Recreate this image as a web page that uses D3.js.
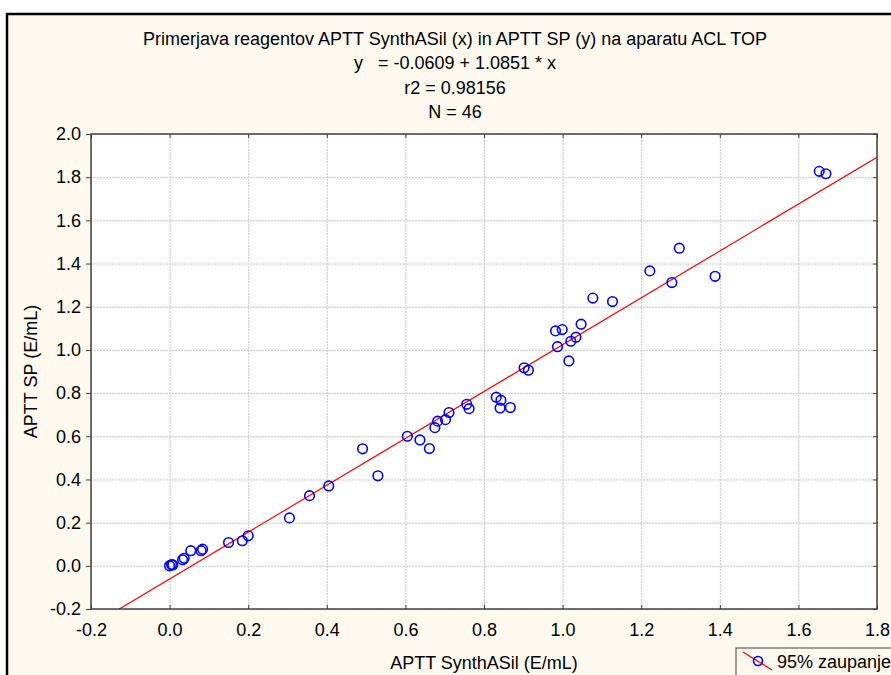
<!DOCTYPE html>
<html>
<head>
<meta charset="utf-8">
<script src="https://cdn.jsdelivr.net/npm/d3@7"></script>
<style>
	body { margin: 0; padding: 0; background: #fff; }
	svg text { font-family: "Liberation Sans", Arial, sans-serif; fill: #000; white-space: pre; }
	.grid line { stroke: #c8c8c8; stroke-dasharray: 2,1; }
	.grid .domain { display: none; }
	.axis .domain { display: none; }
	.axis line { stroke: #404040; }
	.axis text { font-size: 18px; }
</style>
</head>
<body>
<svg width="891" height="675"></svg>
<script>
(function() {

	// values
	var xValues = [0.000, 0.005, 0.008, 0.033, 0.037, 0.054, 0.080, 0.084, 0.150, 0.185,
		0.200, 0.305, 0.356, 0.405, 0.491, 0.530, 0.605, 0.637, 0.661, 0.675,
		0.682, 0.702, 0.711, 0.756, 0.762, 0.831, 0.843, 0.841, 0.867, 0.902,
		0.913, 0.987, 1.016, 0.982, 0.999, 1.021, 1.034, 1.047, 1.077, 1.127,
		1.222, 1.278, 1.297, 1.388, 1.653, 1.670]
	var yValues = [0.000, 0.006, 0.004, 0.028, 0.035, 0.070, 0.070, 0.077, 0.108, 0.116,
		0.139, 0.222, 0.325, 0.370, 0.542, 0.417, 0.600, 0.583, 0.543, 0.640,
		0.670, 0.677, 0.710, 0.748, 0.728, 0.781, 0.767, 0.731, 0.733, 0.917,
		0.906, 1.015, 0.949, 1.088, 1.094, 1.040, 1.059, 1.119, 1.240, 1.224,
		1.366, 1.312, 1.471, 1.341, 1.827, 1.816]
	var xTicks = [-0.2, 0.0, 0.2, 0.4, 0.6, 0.8, 1.0, 1.2, 1.4, 1.6, 1.8]
	var yTicks = [-0.2, 0.0, 0.2, 0.4, 0.6, 0.8, 1.0, 1.2, 1.4, 1.6, 1.8, 2.0]
	var intercept = -0.0609
	var slope = 1.0851
	var titleLines = [
		'Primerjava reagentov APTT SynthASil (x) in APTT SP (y) na aparatu ACL TOP',
		'y   = -0.0609 + 1.0851 * x',
		'r2 = 0.98156',
		'N = 46'
	]
	var xLabel = 'APTT SynthASil (E/mL)'
	var yLabel = 'APTT SP (E/mL)'
	var legendLabel = '95% zaupanje'

	var points = xValues.map(function(x, i) { return { x: x, y: yValues[i] } })

	var svg = d3.select('svg')
	var margin = { top: 134, left: 91, right: 14, bottom: 66 }
	var width = 891 - margin.left - margin.right
	var height = 675 - margin.top - margin.bottom

	// page background and outer frame
	svg.append('rect').attr('width', 891).attr('height', 675).attr('fill', '#fff')
	svg.append('rect')
		.attr('x', 7).attr('y', 14)
		.attr('width', 900).attr('height', 700)
		.attr('fill', '#fdf9ee')
		.attr('stroke', '#000')
		.attr('stroke-width', 2.5)

	var scales = {}
	scales.x = d3.scaleLinear().domain([-0.2, 1.8]).range([0, width])
	scales.y = d3.scaleLinear().domain([-0.2, 2.0]).range([height, 0])

	var g = svg.append('g')
		.attr('transform', 'translate(' + margin.left + ',' + margin.top + ')')

	g.append('rect')
		.attr('width', width).attr('height', height)
		.attr('fill', '#fff')

	// dotted grid
	g.append('g').attr('class', 'grid')
		.call(d3.axisBottom(scales.x).tickValues(xTicks).tickSize(height).tickFormat(''))
	g.append('g').attr('class', 'grid')
		.call(d3.axisRight(scales.y).tickValues(yTicks).tickSize(width).tickFormat(''))

	g.append('defs').append('clipPath').attr('id', 'clip')
		.append('rect').attr('width', width).attr('height', height)

	// regression line
	var lineData = scales.x.domain().map(function(x) { return { x: x, y: intercept + slope * x } })
	g.append('path')
		.datum(lineData)
		.attr('clip-path', 'url(#clip)')
		.attr('fill', 'none')
		.attr('stroke', '#ff0000')
		.attr('stroke-width', 1.2)
		.attr('d', d3.line()
			.x(function(d) { return scales.x(d.x) })
			.y(function(d) { return scales.y(d.y) }))

	// points
	g.append('g').selectAll('circle')
		.data(points)
		.enter()
		.append('circle')
		.attr('cx', function(d) { return scales.x(d.x) })
		.attr('cy', function(d) { return scales.y(d.y) })
		.attr('r', 4.8)
		.attr('fill', 'none')
		.attr('stroke', '#0000ff')
		.attr('stroke-width', 1.6)

	// frame
	g.append('rect')
		.attr('width', width).attr('height', height)
		.attr('fill', 'none')
		.attr('stroke', '#404040')
		.attr('stroke-width', 1.5)

	var fmt = function(d) { return d.toFixed(1) }

	g.append('g').attr('class', 'axis')
		.attr('transform', 'translate(0,' + height + ')')
		.call(d3.axisBottom(scales.x).tickValues(xTicks).tickSizeInner(-4).tickPadding(14).tickFormat(fmt))
	g.append('g').attr('class', 'axis')
		.call(d3.axisLeft(scales.y).tickValues(yTicks).tickSizeInner(5).tickPadding(5).tickFormat(fmt))
	g.append('g').attr('class', 'axis')
		.call(d3.axisTop(scales.x).tickValues(xTicks).tickSizeInner(-4).tickFormat(''))
	g.append('g').attr('class', 'axis')
		.attr('transform', 'translate(' + width + ',0)')
		.call(d3.axisRight(scales.y).tickValues(yTicks).tickSizeInner(-4).tickFormat(''))

	// titles
	svg.append('g').selectAll('text')
		.data(titleLines)
		.enter()
		.append('text')
		.attr('x', 455)
		.attr('y', function(d, i) { return 44.5 + i * 24.5 })
		.attr('text-anchor', 'middle')
		.style('font-size', '18px')
		.text(function(d) { return d })

	svg.append('text')
		.attr('x', margin.left + width / 2)
		.attr('y', 669)
		.attr('text-anchor', 'middle')
		.style('font-size', '18px')
		.text(xLabel)

	svg.append('text')
		.attr('transform', 'translate(37,' + (margin.top + height / 2) + ')rotate(-90)')
		.attr('text-anchor', 'middle')
		.style('font-size', '18px')
		.text(yLabel)

	// legend
	var legend = svg.append('g').attr('transform', 'translate(736,648)')
	legend.append('rect')
		.attr('width', 170).attr('height', 40)
		.attr('fill', '#fdf9ee')
		.attr('stroke', '#404040')
		.attr('stroke-width', 1)
	legend.append('line')
		.attr('x1', 7).attr('y1', 4).attr('x2', 36).attr('y2', 22)
		.attr('stroke', '#ff0000').attr('stroke-width', 1.2)
	legend.append('circle')
		.attr('cx', 22).attr('cy', 13).attr('r', 4.5)
		.attr('fill', 'none').attr('stroke', '#0000ff').attr('stroke-width', 1.6)
	legend.append('text')
		.attr('x', 41).attr('y', 20)
		.style('font-size', '18px')
		.text(legendLabel)

})()
</script>
</body>
</html>
